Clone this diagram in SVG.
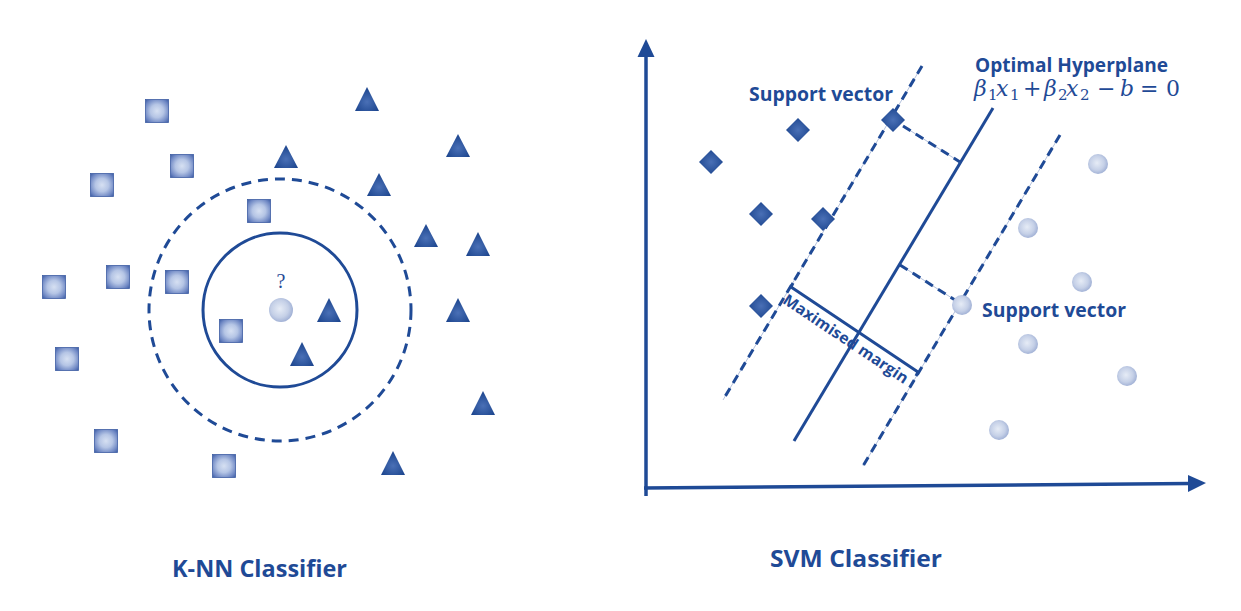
<svg xmlns="http://www.w3.org/2000/svg" width="1241" height="611" viewBox="0 0 1241 611">
<defs>
<radialGradient id="gSq" cx="50%" cy="50%" r="72%">
<stop offset="0" stop-color="#d6e0f2"/>
<stop offset="0.4" stop-color="#b5c5e5"/>
<stop offset="0.75" stop-color="#6f88c4"/>
<stop offset="1" stop-color="#34559f"/>
</radialGradient>
<radialGradient id="gTri" cx="50%" cy="62%" r="60%">
<stop offset="0" stop-color="#4a70b6"/>
<stop offset="1" stop-color="#1b448d"/>
</radialGradient>
<radialGradient id="gDm" cx="50%" cy="50%" r="60%">
<stop offset="0" stop-color="#4a70b6"/>
<stop offset="1" stop-color="#1b448d"/>
</radialGradient>
<radialGradient id="gCir" cx="45%" cy="45%" r="60%">
<stop offset="0" stop-color="#e6ecf6"/>
<stop offset="0.6" stop-color="#c5d0e7"/>
<stop offset="1" stop-color="#9aabd2"/>
</radialGradient>
</defs>
<style>
.sq{fill:url(#gSq);stroke:#3f5ea3;stroke-width:0.8}
.tri{fill:url(#gTri)}
.dm{fill:url(#gDm)}
.cir{fill:url(#gCir)}
.ln{fill:none;stroke:#1f4a96;stroke-width:3;stroke-linecap:butt}
.ax{fill:none;stroke:#1f4a96;stroke-width:3.5}
.dash{fill:none;stroke:#1f4a96;stroke-width:3;stroke-dasharray:9 6}
.guide{fill:none;stroke:#b5c2dd;stroke-width:1}
.lbl{font-family:"Open Sans","DejaVu Sans",sans-serif;font-weight:700;fill:#1f4a96}
.sv{font-family:"Open Sans","DejaVu Sans",sans-serif;font-weight:700;font-size:19px;fill:#1f4a96}
.math{font-family:"DejaVu Serif","Liberation Serif",serif;font-size:22px;fill:#1f4a96}
.mi{font-style:italic}
.sub{font-size:15px}
</style>
<rect width="1241" height="611" fill="#ffffff"/>

<!-- ================= K-NN ================= -->
<g id="knn">
<g id="knn-circles">
<circle id="knn-outer" cx="280" cy="310" r="131" class="dash" stroke-width="2.6" style="stroke-dasharray:10 7"/>
<circle id="knn-inner" cx="280" cy="310" r="77" class="ln" stroke-width="2.6"/>
</g>
<g id="knn-squares">
<rect id="sq1" class="sq" x="145.5" y="99.5" width="23" height="23"/>
<rect id="sq2" class="sq" x="170.5" y="154.5" width="23" height="23"/>
<rect id="sq3" class="sq" x="90.5" y="173.5" width="23" height="23"/>
<rect id="sq4" class="sq" x="247.5" y="199.5" width="23" height="23"/>
<rect id="sq5" class="sq" x="106.5" y="265.5" width="23" height="23"/>
<rect id="sq6" class="sq" x="42.5" y="275.5" width="23" height="23"/>
<rect id="sq7" class="sq" x="165.5" y="270.5" width="23" height="23"/>
<rect id="sq8" class="sq" x="219.5" y="319.5" width="23" height="23"/>
<rect id="sq9" class="sq" x="55.5" y="347.5" width="23" height="23"/>
<rect id="sq10" class="sq" x="94.5" y="429.5" width="23" height="23"/>
<rect id="sq11" class="sq" x="212.5" y="454.5" width="23" height="23"/>
</g>
<g id="knn-triangles">
<polygon id="tr1" class="tri" points="367,87 355,111 379,111"/>
<polygon id="tr2" class="tri" points="458,134 446,157 470,157"/>
<polygon id="tr3" class="tri" points="286,145 274,168 298,168"/>
<polygon id="tr4" class="tri" points="379,173 367,196 391,196"/>
<polygon id="tr5" class="tri" points="426,224 414,247 438,247"/>
<polygon id="tr6" class="tri" points="478,232 466,256 490,256"/>
<polygon id="tr7" class="tri" points="329,298 317,322 341,322"/>
<polygon id="tr8" class="tri" points="458,298 446,322 470,322"/>
<polygon id="tr9" class="tri" points="302,342 290,366 314,366"/>
<polygon id="tr10" class="tri" points="483,391 471,415 495,415"/>
<polygon id="tr11" class="tri" points="393,451 381,475 405,475"/>
</g>
<g id="knn-query">
<circle cx="281" cy="310" r="12" class="cir"/>
<text x="281" y="288" text-anchor="middle" font-family="'Liberation Serif',serif" font-size="20" fill="#1f4a96">?</text>
</g>
<text id="knn-title" class="lbl" x="172" y="577" font-size="23" textLength="175" lengthAdjust="spacingAndGlyphs">K-NN Classifier</text>
</g>

<!-- ================= SVM ================= -->
<g id="svm">
<g id="svm-connectors">
<line id="axis-y" class="ax" x1="646" y1="496" x2="646" y2="56"/>
<polygon points="646,39 637.5,57 654.5,57" fill="#1f4a96"/>
<line id="axis-x" class="ax" x1="644" y1="488" x2="1190" y2="483.5"/>
<polygon points="1206,483 1188,475 1188,492" fill="#1f4a96"/>

<line class="guide" x1="922" y1="66" x2="723" y2="400"/>
<line id="margin-left" class="dash" x1="922" y1="66" x2="723" y2="400"/>
<line class="guide" x1="1060" y1="135" x2="863" y2="466"/>
<line id="margin-right" class="dash" x1="1060" y1="135" x2="863" y2="466"/>
<line id="hyperplane" class="ln" x1="993" y1="108" x2="794" y2="441"/>
<line class="guide" x1="903" y1="126" x2="960" y2="162"/>
<line id="perp1" class="dash" x1="903" y1="126" x2="960" y2="162"/>
<line class="guide" x1="900" y1="265" x2="955" y2="300"/>
<line id="perp2" class="dash" x1="900" y1="265" x2="955" y2="300"/>
<polyline id="margin-width" class="ln" points="793,283 791,287 918,372 916,376"/>
</g>
<g id="svm-diamonds">
<polygon id="dm1" class="dm" points="893,108 905,120 893,132 881,120"/>
<polygon id="dm2" class="dm" points="798,118 810,130 798,142 786,130"/>
<polygon id="dm3" class="dm" points="711,150 723,162 711,174 699,162"/>
<polygon id="dm4" class="dm" points="761,202 773,214 761,226 749,214"/>
<polygon id="dm5" class="dm" points="823,207 835,219 823,231 811,219"/>
<polygon id="dm6" class="dm" points="761,294 773,306 761,318 749,306"/>
</g>
<g id="svm-circles">
<circle id="c1" class="cir" cx="1098" cy="164" r="10"/>
<circle id="c2" class="cir" cx="1028" cy="228" r="10"/>
<circle id="c3" class="cir" cx="1082" cy="282" r="10"/>
<circle id="c4" class="cir" cx="962" cy="305" r="10"/>
<circle id="c5" class="cir" cx="1028" cy="344" r="10"/>
<circle id="c6" class="cir" cx="1127" cy="376" r="10"/>
<circle id="c7" class="cir" cx="999" cy="430" r="10"/>
</g>
<g id="svm-labels">
<text class="sv" x="749" y="101" textLength="144" lengthAdjust="spacingAndGlyphs">Support vector</text>
<text class="sv" x="982" y="317" textLength="144" lengthAdjust="spacingAndGlyphs">Support vector</text>
<text class="sv" x="975" y="72" textLength="193" lengthAdjust="spacingAndGlyphs">Optimal Hyperplane</text>
<text class="math" y="96"><tspan class="mi" x="974">β</tspan><tspan class="sub" x="988" dy="4">1</tspan><tspan class="mi" x="996" dy="-4">x</tspan><tspan class="sub" x="1010" dy="4">1</tspan><tspan x="1023" dy="-4">+</tspan><tspan class="mi" x="1044">β</tspan><tspan class="sub" x="1058" dy="4">2</tspan><tspan class="mi" x="1066" dy="-4">x</tspan><tspan class="sub" x="1080" dy="4">2</tspan><tspan x="1097" dy="-4">−</tspan><tspan class="mi" x="1120">b</tspan><tspan x="1140">=</tspan><tspan x="1166">0</tspan></text>
<text class="sv" transform="translate(791,287) rotate(33.8)" x="1" y="18" textLength="147" lengthAdjust="spacingAndGlyphs" style="font-size:15.5px">Maximised margin</text>
</g>
<text id="svm-title" class="lbl" x="770" y="567" font-size="23" textLength="172" lengthAdjust="spacingAndGlyphs">SVM Classifier</text>
</g>
</svg>
